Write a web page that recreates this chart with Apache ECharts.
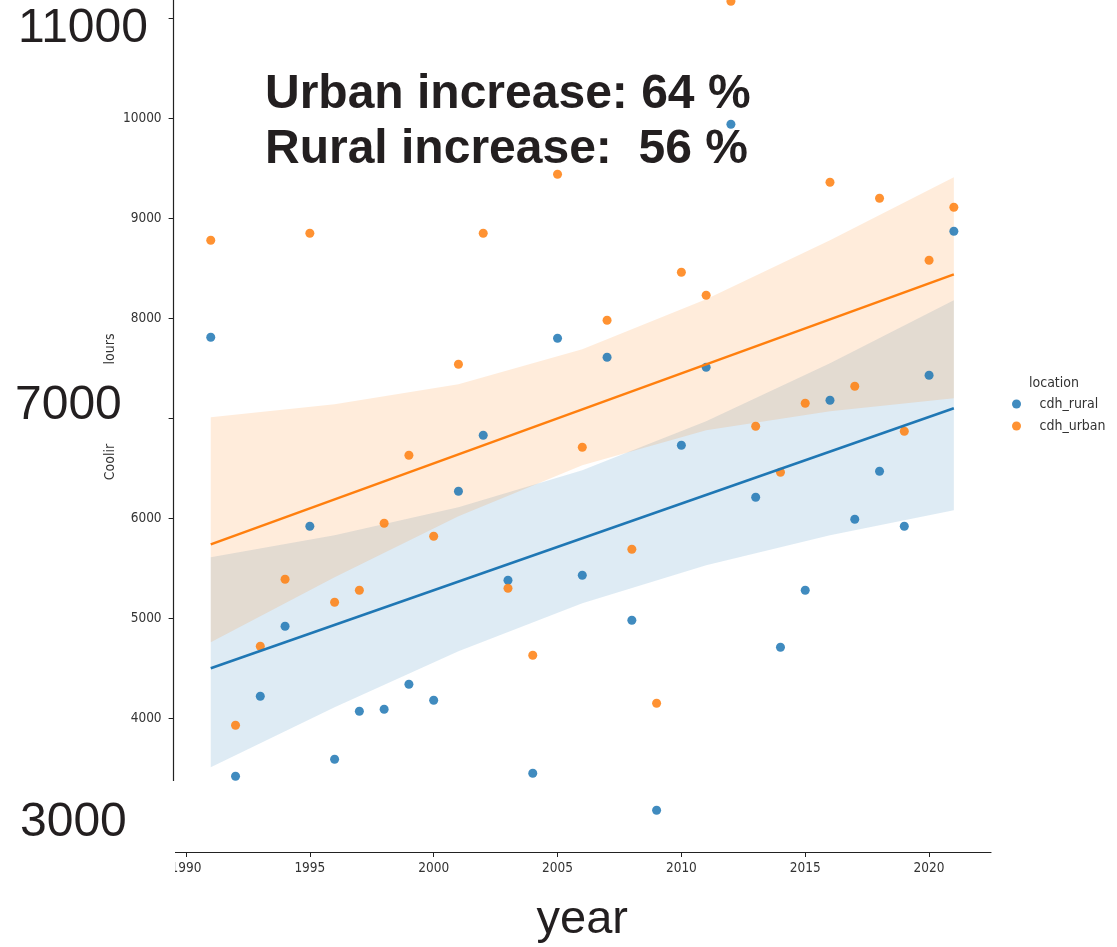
<!DOCTYPE html>
<html>
<head>
<meta charset="utf-8">
<script src="https://cdn.jsdelivr.net/npm/echarts@6/dist/echarts.min.js"></script>
<style>html,body{margin:0;padding:0;background:#fff}#c{width:1117px;height:947px}</style>
</head>
<body>
<div id="c"></div>
<script>
// ---- data ----
const years = [1991,1992,1993,1994,1995,1996,1997,1998,1999,2000,2001,2002,2003,2004,2005,2006,2007,2008,2009,2010,2011,2012,2013,2014,2015,2016,2017,2018,2019,2020,2021];
const rural = [7810,3420,4220,4920,5920,3590,4070,4090,4340,4180,6270,6830,5380,3450,7800,5430,7610,4980,3080,6730,7510,9940,6210,4710,5280,7180,5990,6470,5920,7430,8870];
const urban = [8780,3930,4720,5390,8850,5160,5280,5950,6630,5820,7540,8850,5300,4630,9440,6710,7980,5690,4150,8460,8230,11170,6920,6460,7150,9360,7320,9200,6870,8580,9110];

const fitYears = [1991, 2021];
const ruralFit = [4500, 7100];
const urbanFit = [5740, 8440];

const bandYears = [1991, 1996, 2001, 2006, 2011, 2016, 2021];
const ruralUpper = [5610, 5830, 6110, 6480, 6970, 7550, 8180];
const ruralLower = [3510, 4110, 4670, 5150, 5530, 5830, 6080];
const urbanUpper = [7010, 7140, 7340, 7690, 8190, 8780, 9410];
const urbanLower = [4760, 5410, 6020, 6530, 6880, 7070, 7200];

const xTicks = [1990, 1995, 2000, 2005, 2010, 2015, 2020];
const yTicks = [4000, 5000, 6000, 7000, 8000, 9000, 10000, 11000];
const yLabels = [4000, 5000, 6000, 8000, 9000, 10000];
const bigYLabels = [3000, 7000, 11000];
const seriesNames = ['cdh_rural', 'cdh_urban'];
const legendTitle = 'location';
const xName = 'year';
const yNameParts = ['Coolir', 'lours'];
const annotation = ['Urban increase: 64 %', 'Rural increase:  56 %'];

// ---- styling ----
const BLUE = '#1f77b4', ORANGE = '#ff7f0e';
const SMALL_FONT = '"DejaVu Sans Condensed", "DejaVu Sans", sans-serif';
const BIG_FONT = '"Liberation Sans", Arial, sans-serif';
const TEXT_DARK = '#231f20';

function bandSeries(name, lower, upper, rgba) {
  return {
    type: 'custom', name: name, silent: true,
    coordinateSystem: 'cartesian2d',
    data: bandYears.map((y, i) => [y, lower[i], upper[i]]),
    encode: { x: 0, y: [1, 2] },
    renderItem: function (params, api) {
      if (params.dataIndex !== 0) return null;
      const pts = [];
      for (let i = 0; i < bandYears.length; i++) pts.push(api.coord([bandYears[i], upper[i]]));
      for (let i = bandYears.length - 1; i >= 0; i--) pts.push(api.coord([bandYears[i], lower[i]]));
      return { type: 'polygon', shape: { points: pts }, style: { fill: rgba } };
    }
  };
}
function scatterSeries(name, vals, color) {
  return {
    type: 'scatter', name: name, symbolSize: 9,
    data: years.map((y, i) => [y, vals[i]]),
    itemStyle: { color: color, opacity: 0.85 },
    clip: false, silent: true
  };
}
function fitSeries(name, vals, color) {
  return {
    type: 'line', name: name, showSymbol: false, silent: true,
    data: fitYears.map((y, i) => [y, vals[i]]),
    lineStyle: { color: color, width: 2.5 }
  };
}

const bigRich = {};
bigYLabels.forEach(v => {
  const pad = v === 11000 ? [20, 0, 0, 5] : (v === 7000 ? [0, 0, 26, 2] : [8, 0, 0, 7]);
  bigRich['b' + v] = { fontSize: 48, lineHeight: 48, fontFamily: BIG_FONT, color: TEXT_DARK, padding: pad };
});

const chart = echarts.init(document.getElementById('c'), null, { renderer: 'canvas' });
chart.setOption({
  animation: false,
  backgroundColor: '#fff',
  grid: { left: 173.6, right: 126, top: -37.7, bottom: 95, containLabel: false, outerBoundsMode: 'none' },
  xAxis: {
    type: 'value', min: 1989.5, max: 2022.5,
    splitLine: { show: false },
    axisLine: { show: true, onZero: false, lineStyle: { color: '#222', width: 1.2 } },
    axisTick: { show: true, length: 5, customValues: xTicks, lineStyle: { color: '#222' } },
    axisLabel: { customValues: xTicks, formatter: v => String(v), margin: 9, fontFamily: SMALL_FONT, fontSize: 13.5, color: '#333' },
    name: xName, nameLocation: 'middle', nameGap: 45,
    nameTextStyle: { fontSize: 47, fontFamily: BIG_FONT, color: TEXT_DARK }
  },
  yAxis: [{
    type: 'value', min: 2663, max: 11560, position: 'left',
    splitLine: { show: false },
    axisLine: { show: true, onZero: false, lineStyle: { color: '#222', width: 1.2 } },
    axisTick: { show: true, length: 5, customValues: yTicks, lineStyle: { color: '#222' } },
    axisLabel: { customValues: yLabels, formatter: v => String(v), margin: 12, fontFamily: SMALL_FONT, fontSize: 13.5, color: '#333' }
  }, {
    type: 'value', min: 2663, max: 11560, position: 'left', gridIndex: 0,
    splitLine: { show: false },
    axisLine: { show: false, onZero: false },
    axisTick: { show: false },
    axisLabel: { customValues: bigYLabels, align: 'left', margin: 160.6,
      formatter: v => '{b' + v + '|' + v + '}', rich: bigRich }
  }],
  title: {
    text: legendTitle, left: 1029, top: 376, padding: 0,
    textStyle: { fontFamily: SMALL_FONT, fontSize: 14, fontWeight: 'normal', color: '#333' }
  },
  legend: {
    data: seriesNames, orient: 'vertical', left: 1012, top: 397, padding: 0,
    icon: 'circle', itemWidth: 36, itemHeight: 9, itemGap: 8,
    textStyle: { fontFamily: SMALL_FONT, fontSize: 14, color: '#333' }
  },
  graphic: [
    { type: 'text', x: 265, y: 95, z: 50, style: { text: annotation[0], fontSize: 48, fontWeight: 'bold', fontFamily: BIG_FONT, fill: TEXT_DARK, align: 'left', verticalAlign: 'middle' } },
    { type: 'text', x: 265, y: 150, z: 50, style: { text: annotation[1], fontSize: 48, fontWeight: 'bold', fontFamily: BIG_FONT, fill: TEXT_DARK, align: 'left', verticalAlign: 'middle' } },
    { type: 'text', x: 110, y: 462, rotation: Math.PI / 2, z: 50, style: { text: yNameParts[0], fontSize: 14, fontFamily: SMALL_FONT, fill: '#333', align: 'center', verticalAlign: 'middle' } },
    { type: 'text', x: 110, y: 349, rotation: Math.PI / 2, z: 50, style: { text: yNameParts[1], fontSize: 14, fontFamily: SMALL_FONT, fill: '#333', align: 'center', verticalAlign: 'middle' } },
    { type: 'rect', z: 100, shape: { x: 140, y: 781, width: 35, height: 100 }, style: { fill: '#fff' } }
  ],
  series: [
    bandSeries('rural_ci', ruralLower, ruralUpper, 'rgba(31,119,180,0.15)'),
    scatterSeries(seriesNames[0], rural, BLUE),
    fitSeries('rural_fit', ruralFit, BLUE),
    bandSeries('urban_ci', urbanLower, urbanUpper, 'rgba(255,127,14,0.15)'),
    scatterSeries(seriesNames[1], urban, ORANGE),
    fitSeries('urban_fit', urbanFit, ORANGE)
  ]
});
</script>
</body>
</html>
